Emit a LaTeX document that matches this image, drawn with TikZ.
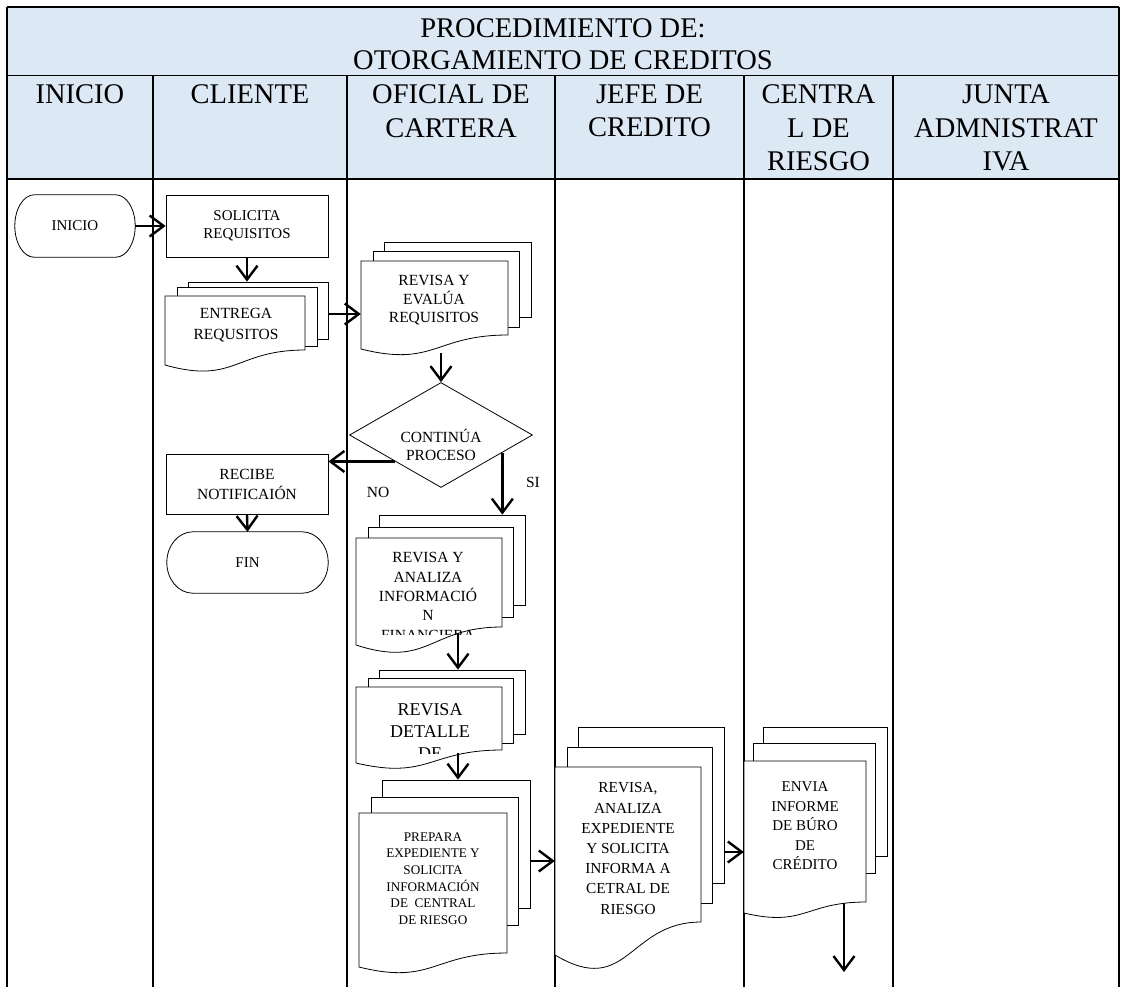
\documentclass[tikz,border=0pt]{standalone}
\usepackage{fontspec}
\setmainfont{Liberation Serif}
\usetikzlibrary{shapes.geometric,arrows.meta,calc}
\definecolor{headblue}{RGB}{221,232,245}

% terminator with elliptic ends, drawn around an invisible node
\newcommand\termshape[1]{%
  \draw[shapeline] let \p1=(#1.north west), \p2=(#1.south east),
      \n1={0.161*(\x2-\x1)}, \n2={(\y1-\y2)/2} in
    (\x1+\n1,\y1) -- (\x2-\n1,\y1)
    arc[start angle=90,end angle=-90,x radius=\n1,y radius=\n2]
    -- (\x1+\n1,\y2)
    arc[start angle=270,end angle=90,x radius=\n1,y radius=\n2] -- cycle;}
% back page of a stacked document: name, x1, x2, ytop, ybottom
\newcommand\backsheet[5]{%
  \node[sheet, minimum width={#3-#2}, minimum height={#5-#4}]
    (#1) at ({(#2+#3)/2},{(#4+#5)/2}) {};}
% front page with wavy bottom: name, x1, x2, ytop, yright, yleft
\newcommand\frontdoc[6]{%
  \filldraw[shapeline, fill=white] (#2,#4) -- (#3,#4) -- (#3,#5)
    .. controls ({(#2+#3)/2},#5) and ({(#2+#3)/2},{#5+2.316*(#6-#5)}) .. (#2,#6) -- cycle;
  \node[inner sep=0pt, minimum width={#3-#2}, minimum height={#6-#4}]
    (#1) at ({(#2+#3)/2},{(#4+#6)/2}) {};}

\begin{document}
\begin{tikzpicture}[x=1pt,y=-1pt,
  grid/.style={line width=2.2pt},
  thingrid/.style={line width=0.9pt},
  shapeline/.style={line width=0.8pt},
  sheet/.style={draw, fill=white, line width=0.8pt, inner sep=0pt},
  box/.style={draw, line width=0.8pt, inner sep=0pt, align=center},
  flow/.style={line width=2.4pt, -{Straight Barb[length=14pt,width=21pt]}},
  lbl/.style={align=center, inner sep=0pt, font=\fontsize{15.5}{20}\selectfont},
  head/.style={align=center, inner sep=0pt, anchor=north, font=\fontsize{28.5}{33.5}\selectfont},
]
\useasboundingbox (0,0) rectangle (1121,986);

% ---- table frame and header ----
\fill[headblue] (7,7) rectangle (1119,179);
\draw[thingrid] (7,75) -- (1119,75);
\draw[grid] (7,7) -- (1119,7);
\draw[grid] (7,179) -- (1119,179);
\foreach \x in {7,1119} \draw[grid] (\x,7) -- (\x,990);
\foreach \x in {153,347,555,744,893} \draw[grid] (\x,75) -- (\x,990);

\node[head, anchor=center, font=\fontsize{28.5}{32}\selectfont] (title) at (563,44)
  {PROCEDIMIENTO DE:\\OTORGAMIENTO DE CREDITOS};
\node[head] (h-inicio)  at (80,84.5)   {INICIO};
\node[head] (h-cliente) at (250,84.5)  {CLIENTE};
\node[head] (h-oficial) at (451,84.5)  {OFICIAL DE\\CARTERA};
\node[head] (h-jefe)    at (649.5,84.5){JEFE DE\\CREDITO};
\node[head] (h-central) at (818.5,84.5){CENTRA\\L DE\\RIESGO};
\node[head] (h-junta)   at (1006,84.5) {JUNTA\\ADMNISTRAT\\IVA};

% ---- INICIO / CLIENTE ----
\node[inner sep=0pt, minimum width=120pt, minimum height=62pt,
      font=\fontsize{15}{18}\selectfont] (inicio) at (75,226) {INICIO};
\termshape{inicio}

\node[box, lbl, font=\fontsize{15}{18}\selectfont,
      minimum width=162pt, minimum height=62pt] (solicita) at (247,226)
  {SOLICITA\\REQUISITOS};

\backsheet{entrega-3}{188}{328}{282}{339}
\backsheet{entrega-2}{177}{317}{287}{346}
\frontdoc{entrega}{165}{305}{296}{350}{365}
\node[lbl, font=\fontsize{15.5}{21}\selectfont] (entrega-t) at (236,325.5) {ENTREGA\\REQUSITOS};

\node[box, lbl, minimum width=162pt, minimum height=60pt] (recibe) at (247,484)
  {RECIBE\\NOTIFICAIÓN};
\node[inner sep=0pt, minimum width=161pt, minimum height=61pt,
      font=\fontsize{15}{18}\selectfont] (fin) at (247.5,562.5) {FIN};
\termshape{fin}

% ---- OFICIAL DE CARTERA ----
\backsheet{revisa-3}{384}{531}{242}{317}
\backsheet{revisa-2}{373}{519}{251}{327}
\frontdoc{revisa}{361}{508}{261}{335}{349}
\node[lbl, font=\fontsize{15.5}{18.5}\selectfont] (revisa-t) at (434,300.5)
  {REVISA Y\\EVALÚA\\REQUISITOS};

\node[diamond, draw, line width=0.8pt, inner sep=0pt, aspect=1.74,
      minimum width=183pt, minimum height=105pt] (cont) at (441,435) {};
\node[lbl, font=\fontsize{15.5}{18}\selectfont] (cont-t) at (441,445) {CONTINÚA\\PROCESO};

\node[lbl] (no) at (378,492) {NO};
\node[lbl] (si) at (533,482) {SI};

\backsheet{analiza-3}{379}{525}{515}{605}
\backsheet{analiza-2}{368}{513}{527}{617}
\frontdoc{analiza}{356}{502}{538}{627}{645}
\begin{scope}
  \clip (356,538) rectangle (502,634);
  \node[lbl, font=\fontsize{15.5}{19.3}\selectfont] (analiza-t) at (428,596.5)
    {REVISA Y\\ANALIZA\\INFORMACIÓ\\N\\FINANCIERA};
\end{scope}

\backsheet{detalle-3}{379}{525}{670}{734}
\backsheet{detalle-2}{368}{513}{678}{743}
\frontdoc{detalle}{356}{502}{687}{750}{763}
\begin{scope}
  \clip (356,687) rectangle (502,753);
  \node[lbl, font=\fontsize{18}{22}\selectfont] (detalle-t) at (430,732)
    {REVISA\\DETALLE\\DE};
\end{scope}

\backsheet{prepara-3}{382}{530}{780}{908}
\backsheet{prepara-2}{371}{518}{797}{925}
\frontdoc{prepara}{359}{507}{813}{953}{967}
\node[lbl, font=\fontsize{13.2}{16.6}\selectfont] (prepara-t) at (433,878.5)
  {PREPARA\\EXPEDIENTE Y\\SOLICITA\\INFORMACIÓN\\DE~~CENTRAL\\DE RIESGO};

% ---- JEFE DE CREDITO ----
\backsheet{jefe-3}{578}{724}{727}{883}
\backsheet{jefe-2}{567}{712}{747}{903}
\frontdoc{jefe}{555}{701}{767}{922}{955}
\node[lbl, font=\fontsize{15.3}{20.2}\selectfont] (jefe-t) at (628,848.5)
  {REVISA,\\ANALIZA\\EXPEDIENTE\\Y SOLICITA\\INFORMA A\\CETRAL DE\\RIESGO};

% ---- CENTRAL DE RIESGO ----
\backsheet{central-3}{763}{887}{727}{856}
\backsheet{central-2}{753}{875}{743}{873}
\frontdoc{central}{744}{866}{761}{902}{913}
\node[lbl, font=\fontsize{15}{19.5}\selectfont] (central-t) at (805,826)
  {ENVIA\\INFORME\\DE BÚRO\\DE\\CRÉDITO};

% ---- connectors ----
\coordinate (si-start) at (cont.-16.7);
\path ([xshift=6pt]detalle-3.north) coordinate (detalle-in);
\path ([xshift=2pt]prepara-3.north) coordinate (prepara-in);
\coordinate (central-out) at (844,972);

\draw[flow] (inicio.east) -- (inicio.east -| solicita.west);
\draw[flow] (solicita.south) -- (solicita.south |- entrega-3.north);
\draw[flow] ([yshift=-3.5pt]entrega-3.east) -- ([yshift=-3.5pt]entrega-3.east -| revisa.west);
\draw[flow] ([yshift=-4pt]revisa.south -| cont.north) -- (cont.north);
\draw[flow] (cont.south west) -- (cont.south west -| recibe.east);
\draw[flow] (si-start) -- (si-start |- analiza-3.north);
\draw[flow] (recibe.south) -- (fin.north);
\draw[flow] ([yshift=12pt]analiza.south -| detalle-in) -- (detalle-in);
\draw[flow] ([yshift=10pt]detalle.south -| prepara-in) -- (prepara-in);
\draw[flow] ([yshift=-17pt]prepara-3.east) -- ([yshift=-17pt]prepara-3.east -| jefe.west);
\draw[flow] ([yshift=-47pt]jefe-3.east) -- ([yshift=-47pt]jefe-3.east -| central.west);
\draw[flow] ([yshift=10pt]central.south -| central-out) -- (central-out);
\end{tikzpicture}
\end{document}
